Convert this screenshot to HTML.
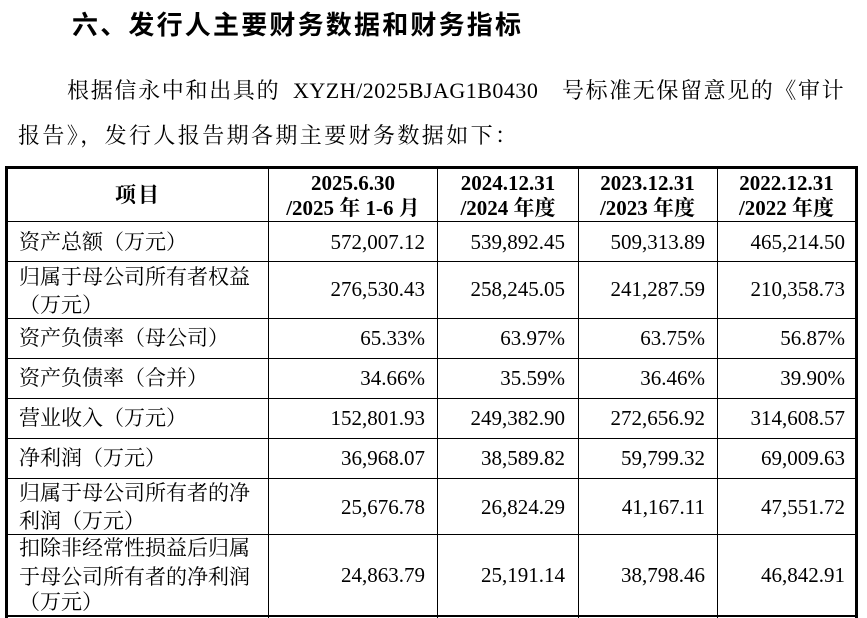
<!DOCTYPE html>
<html><head><meta charset="utf-8"><style>
html,body{margin:0;padding:0;background:#fff;}
#c{position:relative;width:867px;height:618px;overflow:hidden;background:#fff;color:#000;}
.t{position:absolute;white-space:nowrap;line-height:30px;height:30px;}
.ti{font-family:"Liberation Sans","Noto Sans CJK SC",sans-serif;font-weight:bold;font-size:26px;letter-spacing:2.2px;}
.p{font-family:"Liberation Serif","Noto Serif CJK SC",serif;font-size:22px;}
.b{font-family:"Liberation Serif","Noto Serif CJK SC",serif;font-size:21px;letter-spacing:0px;left:19px;}
.n{font-family:"Liberation Serif","Noto Serif CJK SC",serif;font-size:21px;text-align:right;width:160px;}
.h{font-family:"Liberation Serif","Noto Serif CJK SC",serif;font-size:21px;font-weight:bold;text-align:center;}
.l{position:absolute;background:#000;}
</style></head><body><div id="c">

<div class="t ti" style="left:72px;top:10px;">六、发行人主要财务数据和财务指标</div>

<div class="t p" style="left:67px;top:76px;letter-spacing:1.7px;">根据信永中和出具的</div>
<div class="t p" style="left:293px;top:76px;letter-spacing:0.5px;">XYZH/2025BJAG1B0430</div>
<div class="t p" style="left:562px;top:76px;letter-spacing:1.6px;">号标准无保留意见的《审计</div>
<div class="t p" style="left:18px;top:121px;letter-spacing:2.4px;">报告》，发行人报告期各期主要财务数据如下：</div>

<!-- borders -->
<div class="l" style="left:5px;top:166px;width:853px;height:3px;"></div>
<div class="l" style="left:5px;top:166px;width:3px;height:452px;"></div>
<div class="l" style="left:855px;top:166px;width:3px;height:452px;"></div>
<div class="l" style="left:268px;top:166px;width:1px;height:452px;"></div>
<div class="l" style="left:437px;top:166px;width:1px;height:452px;"></div>
<div class="l" style="left:578px;top:166px;width:1px;height:452px;"></div>
<div class="l" style="left:717px;top:166px;width:1px;height:452px;"></div>

<div class="l" style="left:5px;top:221px;width:853px;height:1px;"></div>
<div class="l" style="left:5px;top:261px;width:853px;height:1px;"></div>
<div class="l" style="left:5px;top:318px;width:853px;height:1px;"></div>
<div class="l" style="left:5px;top:358px;width:853px;height:1px;"></div>
<div class="l" style="left:5px;top:398px;width:853px;height:1px;"></div>
<div class="l" style="left:5px;top:438px;width:853px;height:1px;"></div>
<div class="l" style="left:5px;top:478px;width:853px;height:1px;"></div>
<div class="l" style="left:5px;top:534px;width:853px;height:1px;"></div>
<div class="l" style="left:5px;top:615px;width:853px;height:2px;"></div>

<!-- header -->
<div class="t h" style="left:8px;width:260px;top:180px;letter-spacing:2px;">项目</div>
<div class="t h" style="left:268px;width:170px;top:168px;">2025.6.30</div>
<div class="t h" style="left:268px;width:170px;top:193px;">/2025 年 1-6 月</div>
<div class="t h" style="left:438px;width:140px;top:168px;">2024.12.31</div>
<div class="t h" style="left:438px;width:140px;top:193px;">/2024 年度</div>
<div class="t h" style="left:578px;width:139px;top:168px;">2023.12.31</div>
<div class="t h" style="left:578px;width:139px;top:193px;">/2023 年度</div>
<div class="t h" style="left:717px;width:139px;top:168px;">2022.12.31</div>
<div class="t h" style="left:717px;width:139px;top:193px;">/2022 年度</div>

<!-- labels -->
<div class="t b" style="top:227px;">资产总额（万元）</div>
<div class="t b" style="top:262px;">归属于母公司所有者权益</div>
<div class="t b" style="top:290px;">（万元）</div>
<div class="t b" style="top:323px;">资产负债率（母公司）</div>
<div class="t b" style="top:363px;">资产负债率（合并）</div>
<div class="t b" style="top:403px;">营业收入（万元）</div>
<div class="t b" style="top:443px;">净利润（万元）</div>
<div class="t b" style="top:478px;">归属于母公司所有者的净</div>
<div class="t b" style="top:506px;">利润（万元）</div>
<div class="t b" style="top:533px;">扣除非经常性损益后归属</div>
<div class="t b" style="top:562px;">于母公司所有者的净利润</div>
<div class="t b" style="top:587px;">（万元）</div>

<!-- col2 values (right edge 425) -->
<div class="t n" style="left:265px;top:227px;">572,007.12</div>
<div class="t n" style="left:265px;top:274px;">276,530.43</div>
<div class="t n" style="left:265px;top:323px;">65.33%</div>
<div class="t n" style="left:265px;top:363px;">34.66%</div>
<div class="t n" style="left:265px;top:403px;">152,801.93</div>
<div class="t n" style="left:265px;top:443px;">36,968.07</div>
<div class="t n" style="left:265px;top:492px;">25,676.78</div>
<div class="t n" style="left:265px;top:560px;">24,863.79</div>

<!-- col3 (right edge 565) -->
<div class="t n" style="left:405px;top:227px;">539,892.45</div>
<div class="t n" style="left:405px;top:274px;">258,245.05</div>
<div class="t n" style="left:405px;top:323px;">63.97%</div>
<div class="t n" style="left:405px;top:363px;">35.59%</div>
<div class="t n" style="left:405px;top:403px;">249,382.90</div>
<div class="t n" style="left:405px;top:443px;">38,589.82</div>
<div class="t n" style="left:405px;top:492px;">26,824.29</div>
<div class="t n" style="left:405px;top:560px;">25,191.14</div>

<!-- col4 (right edge 705) -->
<div class="t n" style="left:545px;top:227px;">509,313.89</div>
<div class="t n" style="left:545px;top:274px;">241,287.59</div>
<div class="t n" style="left:545px;top:323px;">63.75%</div>
<div class="t n" style="left:545px;top:363px;">36.46%</div>
<div class="t n" style="left:545px;top:403px;">272,656.92</div>
<div class="t n" style="left:545px;top:443px;">59,799.32</div>
<div class="t n" style="left:545px;top:492px;">41,167.11</div>
<div class="t n" style="left:545px;top:560px;">38,798.46</div>

<!-- col5 (right edge 845) -->
<div class="t n" style="left:685px;top:227px;">465,214.50</div>
<div class="t n" style="left:685px;top:274px;">210,358.73</div>
<div class="t n" style="left:685px;top:323px;">56.87%</div>
<div class="t n" style="left:685px;top:363px;">39.90%</div>
<div class="t n" style="left:685px;top:403px;">314,608.57</div>
<div class="t n" style="left:685px;top:443px;">69,009.63</div>
<div class="t n" style="left:685px;top:492px;">47,551.72</div>
<div class="t n" style="left:685px;top:560px;">46,842.91</div>

</div></body></html>
